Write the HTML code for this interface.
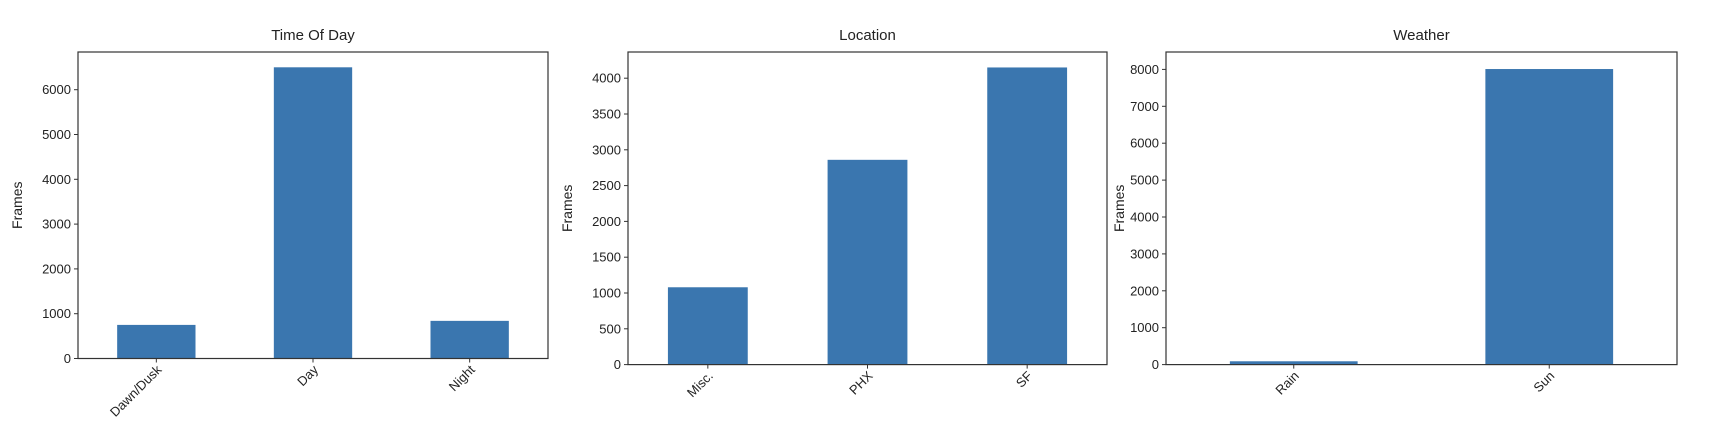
<!DOCTYPE html>
<html><head><meta charset="utf-8"><style>
body{margin:0;background:#fff;}
svg{display:block;font-family:"Liberation Sans","DejaVu Sans",sans-serif;}
</style></head><body>
<svg id="c" width="1722" height="440" viewBox="0 0 1722 440"></svg>
<script>
const todCategories=["Dawn/Dusk","Day","Night"];
const todValues=[750,6500,840];
const todTicks=[0,1000,2000,3000,4000,5000,6000];
const locCategories=["Misc.","PHX","SF"];
const locValues=[1080,2860,4150];
const locTicks=[0,500,1000,1500,2000,2500,3000,3500,4000];
const wxCategories=["Rain","Sun"];
const wxValues=[90,8010];
const wxTicks=[0,1000,2000,3000,4000,5000,6000,7000,8000];

const NS="http://www.w3.org/2000/svg";
const svg=document.getElementById('c');
function mk(t,a,p){const e=document.createElementNS(NS,t);for(const k in a)e.setAttribute(k,a[k]);(p||svg).appendChild(e);return e;}

function panel(key,title,cats,vals,ticks,L,R,T,B,ymax,ylabX){
  const g=mk('g',{});
  
  
  const n=cats.length;
  const xs=i=>L+(i+0.5)*(R-L)/n;
  const bw=0.5*(R-L)/n;
  const ys=v=>B-(v/ymax)*(B-T);
  vals.forEach((v,i)=>{
    const r=mk('rect',{x:xs(i)-bw/2,y:ys(v),width:bw,height:B-ys(v),fill:'#3a76af'},g);
    
    
  });
  const f=mk('rect',{x:L,y:T,width:R-L,height:B-T,fill:'none',stroke:'#333','stroke-width':1.2},g);
  
  
  ticks.forEach(t=>{
    const y=ys(t);
    mk('line',{x1:L-4,x2:L,y1:y,y2:y,stroke:'#333'},g);
    const tx=mk('text',{x:L-7,y:y+4.5,'text-anchor':'end','font-size':13,fill:'#222'},g);
    tx.textContent=t;
    
    
  });
  cats.forEach((c,i)=>{
    const x=xs(i);
    mk('line',{x1:x,x2:x,y1:B,y2:B+4,stroke:'#333'},g);
    const tx=mk('text',{x:x+6,y:B+12,'text-anchor':'end','font-size':13,fill:'#222',transform:`rotate(-45 ${x+6} ${B+12})`},g);
    tx.textContent=c;
    
    
  });
  const ti=mk('text',{x:(L+R)/2,y:T-12,'text-anchor':'middle','font-size':15,fill:'#222'},g);
  ti.textContent=title;
  
  
  const cy=(T+B)/2;
  const yl=mk('text',{x:ylabX,y:cy,'text-anchor':'middle','font-size':14,fill:'#222',transform:`rotate(-90 ${ylabX} ${cy})`},g);
  yl.textContent='Frames';
  
  
}
panel('time-of-day','Time Of Day',todCategories,todValues,todTicks,78,548,52,358.5,(358.5-52)/44.8*1000,22);
panel('location','Location',locCategories,locValues,locTicks,628,1107,52,364.6,(364.6-52)/71.6*1000,572);
panel('weather','Weather',wxCategories,wxValues,wxTicks,1166,1677,52,364.6,(364.6-52)/36.9*1000,1124);
</script>
</body></html>
